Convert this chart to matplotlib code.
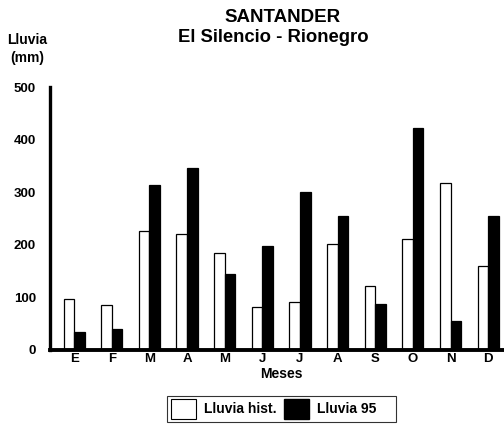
import numpy as np
import matplotlib.pyplot as plt
from matplotlib.patches import Patch

plt.rcParams['font.family'] = ['Liberation Sans', 'DejaVu Sans']
plt.rcParams['font.weight'] = 'bold'

meses = ['E', 'F', 'M', 'A', 'M', 'J', 'J', 'A', 'S', 'O', 'N', 'D']
lluvia_hist = [97, 86, 227, 220, 184, 82, 91, 201, 122, 211, 318, 160]
lluvia_95 = [35, 40, 313, 346, 145, 198, 301, 255, 87, 422, 55, 255]
yticks = [0, 100, 200, 300, 400, 500]

fig = plt.figure(figsize=(5.04, 4.29), dpi=100)
ax = fig.add_axes([50 / 504, 1 - 350 / 429, 1 - 50 / 504, (350 - 87) / 429])

x = np.arange(len(meses))
w = 0.28
ax.bar(x - w / 2, lluvia_hist, w, color='white', edgecolor='black', linewidth=0.9)
ax.bar(x + w / 2, lluvia_95, w, color='black', edgecolor='black', linewidth=0.9)

ax.set_xlim(-0.64, 11.42)
ax.set_ylim(0, 500)
ax.set_yticks(yticks)
ax.set_yticklabels([str(v) for v in yticks], fontsize=9.5, fontweight='bold')
ax.set_xticks(x)
ax.set_xticklabels(meses, fontsize=9.5, fontweight='bold')
ax.tick_params(axis='both', length=0)
ax.tick_params(axis='y', pad=10)
ax.tick_params(axis='x', pad=2.5)

for s in ['top', 'right']:
    ax.spines[s].set_visible(False)
ax.spines['left'].set_linewidth(2.4)
ax.spines['bottom'].set_linewidth(2.8)

fig.text(283 / 504, 1 - 17 / 429, 'SANTANDER', ha='center', va='center',
         fontsize=13.5, fontweight='bold')
fig.text(273 / 504, 1 - 38 / 429, 'El Silencio - Rionegro', ha='center', va='center',
         fontsize=13.3, fontweight='bold')
fig.text(27 / 504, 1 - 49 / 429, 'Lluvia\n(mm)', ha='center', va='center',
         fontsize=10, fontweight='bold', linespacing=1.4)
fig.text(281 / 504, 1 - 374 / 429, 'Meses', ha='center', va='center',
         fontsize=10, fontweight='bold')

handles = [Patch(facecolor='white', edgecolor='black', linewidth=0.8, label='Lluvia hist.'),
           Patch(facecolor='black', edgecolor='black', label='Lluvia 95    ')]
leg = fig.legend(handles=handles, loc='center', bbox_to_anchor=(281.5 / 504, 1 - 409 / 429),
                 ncol=2, fontsize=10, frameon=True, fancybox=False, edgecolor='black',
                 handlelength=1.8, handleheight=1.8, columnspacing=0.5, handletextpad=0.6,
                 borderpad=0.25, borderaxespad=0)
leg.get_frame().set_linewidth(0.8)
for t in leg.get_texts():
    t.set_fontweight('bold')

fig.savefig('out.png', dpi=100)
